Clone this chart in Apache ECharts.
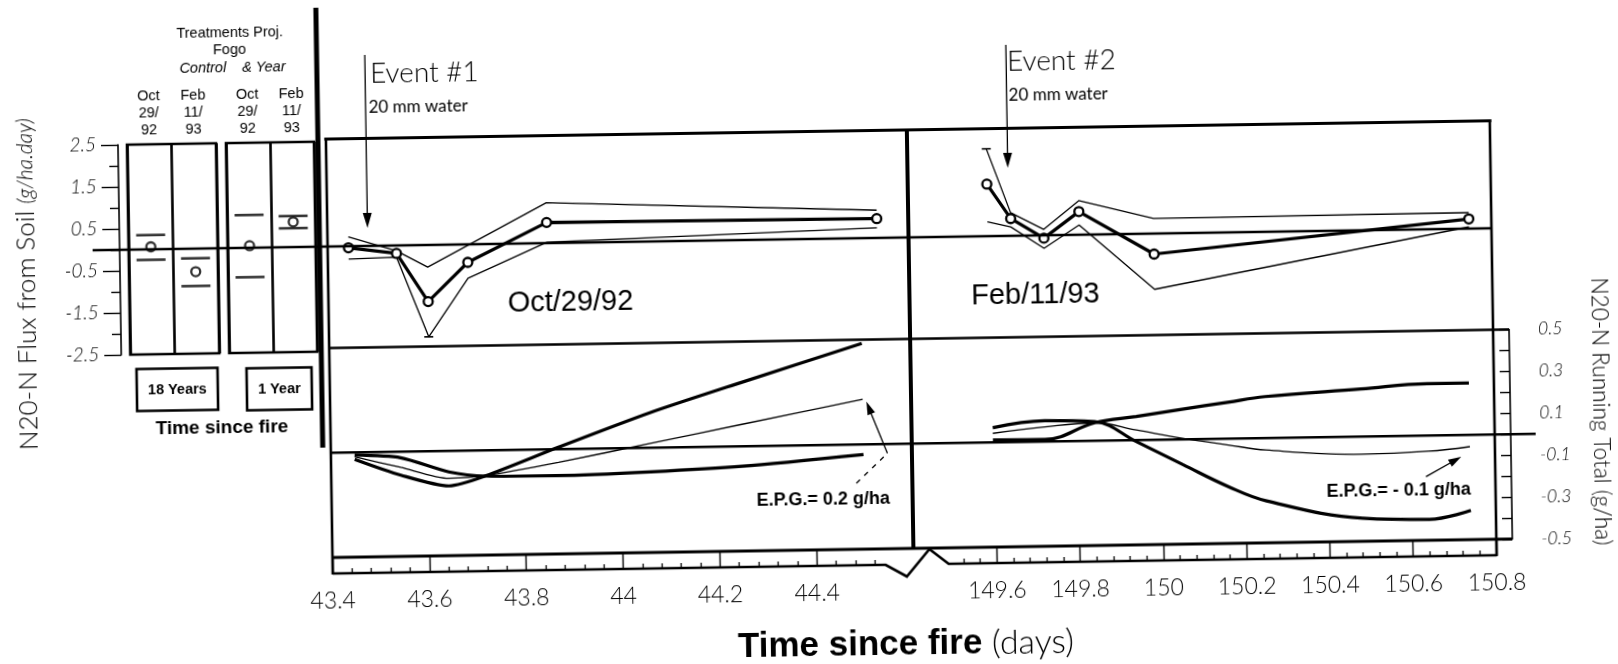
<!DOCTYPE html>
<html><head><meta charset="utf-8">
<script src="https://cdn.jsdelivr.net/npm/echarts@6/dist/echarts.min.js"></script>
<style>
html,body{margin:0;padding:0;background:#fff;overflow:hidden;}
#wrap{width:1618px;height:664px;transform:rotate(-0.9deg);transform-origin:809px 332px;background:#fff;}
#chart{width:1618px;height:664px;}
</style></head><body>
<div id="wrap"><div id="chart"></div></div>
<script>
// ---------------- data ----------------
const boxCategories = ['Oct\n29/\n92', 'Feb\n11/\n93'];
const boxGroups = ['18 Years', '1 Year'];
// left panel: treatment means and bounds (g/ha.day)
const mean18 = [0.06, -0.55];
const high18 = [0.34, -0.23];
const low18  = [-0.25, -0.89];
const mean1  = [0.05, 0.60];
const high1  = [0.78, 0.74];
const low1   = [-0.70, 0.45];

// main flux panels (time since fire, days)
const octDays  = [43.443, 43.542, 43.606, 43.689, 43.853, 44.535];
const octMean  = [-0.04, -0.19, -1.35, -0.43, 0.49, 0.46];
const octUpper = [0.22, -0.13, -0.53, -0.03, 0.96, 0.66];
const octLower = [-0.31, -0.28, -2.19, -0.81, 0.02, 0.24];

const febDays  = [149.59, 149.646, 149.725, 149.81, 149.989, 150.746];
const febMean  = [1.24, 0.41, -0.07, 0.55, -0.49, 0.23];
const febUpper = [2.08, 0.55, 0.14, 0.81, 0.36, 0.38];
const febLower = [0.34, 0.21, -0.31, 0.23, -1.33, 0.04];

// running totals (g/ha)
const octRunDays = [43.449, 43.544, 43.643, 43.72, 43.87, 44.06, 44.25, 44.5];
const octRunA = [-0.033, -0.112, -0.167, -0.121, 0.009, 0.167, 0.305, 0.482];
const octRunB = [-0.021, -0.075, -0.131, -0.12, -0.063, 0.021, 0.105, 0.215];
const octRunC = [-0.013, -0.029, -0.1, -0.123, -0.126, -0.115, -0.095, -0.048];

const febRunDays = [149.595, 149.72, 149.84, 149.94, 150.05, 150.16, 150.25, 150.48, 150.64, 150.74];
const febRunA = [0.011, 0.010, 0.086, 0.113, 0.144, 0.174, 0.198, 0.227, 0.248, 0.248];
const febRunB = [0.043, 0.07, 0.086, 0.048, 0.005, -0.03, -0.057, -0.084, -0.075, -0.056];
const febRunC = [0.07, 0.10, 0.091, -0.008, -0.12, -0.23, -0.30, -0.39, -0.40, -0.36];

const eventDays = [43.483, 149.641];
const octTickLabels = [43.4, 43.6, 43.8, 44, 44.2, 44.4];
const febTickLabels = [149.6, 149.8, 150, 150.2, 150.4, 150.6, 150.8];
const epgLabels = ['E.P.G.= 0.2 g/ha', 'E.P.G.= - 0.1 g/ha'];

// ---------------- helpers ----------------
function minorList(a, b) { const out = []; for (let k = a; k <= b; k++) if (k % 5 !== 0) out.push(+(k * 0.04).toFixed(2)); return out; }
const octMinor = minorList(1086, 1113);
const febMinor = minorList(3738, 3769);

const THIN = 'Lato, "Open Sans", sans-serif';
const HELV = '"Liberation Sans", Arial, sans-serif';
const pairs = (xs, ys) => xs.map((x, i) => [x, ys[i]]);
const capped = (xs, ys, caps) => xs.map((x, i) => caps.indexOf(i) >= 0 ? {value: [x, ys[i]], symbol: 'rect', symbolSize: [9, 1.6]} : [x, ys[i]]);

const chart = echarts.init(document.getElementById('chart'));

const boxGrid = (left, width) => ({left, width, top: 134, height: 210, show: true, borderColor: '#000', borderWidth: 2.6, backgroundColor: 'transparent', containLabel: false, outerBoundsMode: 'none'});
const plain = (left, width, top, height) => ({left, width, top, height, containLabel: false, outerBoundsMode: 'none'});
const catAxis = (gi) => ({gridIndex: gi, type: 'category', data: boxCategories, position: 'top',
  axisLine: {show: false, onZero: false}, axisTick: {show: false},
  splitLine: {show: true, lineStyle: {color: '#000', width: 2.6}},
  axisLabel: {margin: 6, fontFamily: HELV, fontSize: 14.5, lineHeight: 17, color: '#000'}});
const majorX = (gi, min, max, ticks) => ({gridIndex: gi, type: 'value', min, max, interval: 0.2, position: 'bottom',
  axisLine: {show: false, onZero: false}, splitLine: {show: false},
  axisTick: {show: true, length: 16, customValues: ticks, lineStyle: {color: '#000', width: 1.4}},
  axisLabel: {customValues: ticks, margin: 32, formatter: v => String(v), fontFamily: THIN, fontWeight: 300, fontSize: 23, color: '#000'}});
const minorX = (gi, min, max, ticks) => ({gridIndex: gi, type: 'value', min, max, interval: 0.2, position: 'bottom', offset: 16,
  axisLine: {show: false, onZero: false}, splitLine: {show: false}, axisLabel: {show: false},
  axisTick: {show: true, inside: true, length: 5, customValues: ticks, lineStyle: {color: '#000', width: 1.3}}});
const hidden = (gi, min, max) => ({gridIndex: gi, type: 'value', min, max, show: false, axisLine: {onZero: false}});

const thin = {color: '#000', width: 1.3};
const thick = {color: '#000', width: 3.2};
const circle = {symbol: 'circle', symbolSize: 9, itemStyle: {color: '#fff', borderColor: '#000', borderWidth: 2.3}};
const barMark = {type: 'scatter', symbol: 'rect', symbolSize: [29, 2.6], itemStyle: {color: '#000'}, z: 4};

const option = {
  animation: false,
  backgroundColor: '#fff',
  grid: [boxGrid(130, 89), boxGrid(229, 88),
         plain(329, 581, 131.5, 209), plain(910, 583, 131.5, 209),
         plain(329, 581, 340.5, 209.5), plain(910, 583, 340.5, 209.5)],
  xAxis: [catAxis(0), catAxis(1),
          hidden(2, 43.4, 44.6), hidden(3, 149.4, 150.8),
          majorX(4, 43.4, 44.6, octTickLabels), majorX(5, 149.4, 150.8, febTickLabels),
          minorX(4, 43.4, 44.6, octMinor), minorX(5, 149.4, 150.8, febMinor)],
  yAxis: [
    {gridIndex: 0, type: 'value', min: -2.5, max: 2.5, interval: 1, position: 'left', offset: 9,
     axisLine: {show: true, onZero: false, lineStyle: {color: '#000', width: 1.6}},
     axisTick: {show: true, length: 17, lineStyle: {color: '#000', width: 1.4}},
     minorTick: {show: true, splitNumber: 2, length: 9, lineStyle: {color: '#000', width: 1.4}},
     splitLine: {show: false},
     axisLabel: {margin: 22, formatter: v => v.toFixed(1), fontFamily: THIN, fontWeight: 300, fontStyle: 'italic', fontSize: 19, color: '#000'}},
    hidden(1, -2.5, 2.5), hidden(2, -2.42, 2.56), hidden(3, -2.42, 2.56), hidden(4, -0.5, 0.5),
    {gridIndex: 5, type: 'value', min: -0.5, max: 0.5, interval: 0.2, position: 'right', offset: 16,
     axisLine: {show: true, onZero: false, lineStyle: {color: '#000', width: 1.6}},
     axisTick: {show: true, inside: true, length: 10, lineStyle: {color: '#000', width: 1.4}},
     minorTick: {show: true, splitNumber: 2, length: 10, lineStyle: {color: '#000', width: 1.4}},
     splitLine: {show: false},
     axisLabel: {margin: 29, formatter: v => v.toFixed(1), fontFamily: THIN, fontWeight: 300, fontStyle: 'italic', fontSize: 17.5, color: '#000'}}
  ],
  series: [
    Object.assign({}, barMark, {name: '18y high', xAxisIndex: 0, yAxisIndex: 0, data: high18}),
    Object.assign({}, barMark, {name: '18y low', xAxisIndex: 0, yAxisIndex: 0, data: low18}),
    Object.assign({type: 'scatter', name: '18y mean', xAxisIndex: 0, yAxisIndex: 0, data: mean18, z: 5}, circle),
    Object.assign({}, barMark, {name: '1y high', xAxisIndex: 1, yAxisIndex: 1, data: high1}),
    Object.assign({}, barMark, {name: '1y low', xAxisIndex: 1, yAxisIndex: 1, data: low1}),
    Object.assign({type: 'scatter', name: '1y mean', xAxisIndex: 1, yAxisIndex: 1, data: mean1, z: 5}, circle),

    {type: 'line', name: 'Oct upper', xAxisIndex: 2, yAxisIndex: 2, data: pairs(octDays, octUpper), symbol: 'none', lineStyle: thin, clip: false},
    {type: 'line', name: 'Oct lower', xAxisIndex: 2, yAxisIndex: 2, data: capped(octDays, octLower, [2]), symbol: 'none', showSymbol: true, itemStyle: {color: '#000'}, lineStyle: thin, clip: false},
    Object.assign({type: 'line', name: 'Oct mean', xAxisIndex: 2, yAxisIndex: 2, data: pairs(octDays, octMean), lineStyle: thick, z: 5, clip: false}, circle),
    {type: 'line', name: 'Feb upper', xAxisIndex: 3, yAxisIndex: 3, data: capped(febDays, febUpper, [0]), symbol: 'none', showSymbol: true, itemStyle: {color: '#000'}, lineStyle: thin, clip: false},
    {type: 'line', name: 'Feb lower', xAxisIndex: 3, yAxisIndex: 3, data: pairs(febDays, febLower), symbol: 'none', lineStyle: thin, clip: false},
    Object.assign({type: 'line', name: 'Feb mean', xAxisIndex: 3, yAxisIndex: 3, data: pairs(febDays, febMean), lineStyle: thick, z: 5, clip: false}, circle),

    {type: 'line', name: 'Oct run A', xAxisIndex: 4, yAxisIndex: 4, data: pairs(octRunDays, octRunA), symbol: 'none', smooth: 0.25, lineStyle: thick},
    {type: 'line', name: 'Oct run B', xAxisIndex: 4, yAxisIndex: 4, data: pairs(octRunDays, octRunB), symbol: 'none', smooth: 0.25, lineStyle: thin},
    {type: 'line', name: 'Oct run C', xAxisIndex: 4, yAxisIndex: 4, data: pairs(octRunDays, octRunC), symbol: 'none', smooth: 0.25, lineStyle: thick},
    {type: 'line', name: 'Feb run A', xAxisIndex: 5, yAxisIndex: 5, data: pairs(febRunDays, febRunA), symbol: 'none', smooth: 0.4, lineStyle: thick},
    {type: 'line', name: 'Feb run B', xAxisIndex: 5, yAxisIndex: 5, data: pairs(febRunDays, febRunB), symbol: 'none', smooth: 0.4, lineStyle: thin},
    {type: 'line', name: 'Feb run C', xAxisIndex: 5, yAxisIndex: 5, data: pairs(febRunDays, febRunC), symbol: 'none', smooth: 0.4, lineStyle: thick}
  ]
};
chart.setOption(option);

// ---------------- decorations ----------------
const G = [];
const K = '#000';
function ln(x1, y1, x2, y2, w, dash) { G.push({type: 'line', silent: true, z: 10, shape: {x1, y1, x2, y2}, style: {stroke: K, lineWidth: w, lineDash: dash || null}}); }
function pl(points, w) { G.push({type: 'polyline', silent: true, z: 10, shape: {points}, style: {stroke: K, lineWidth: w, fill: null}}); }
function tx(x, y, text, font, align, extra) {
  G.push(Object.assign({type: 'text', silent: true, z: 11, x, y,
    style: Object.assign({text, fill: K, textAlign: align || 'center', textVerticalAlign: 'middle'}, font)}, extra || {}));
}
function head(tx_, ty, dx, dy, len, half) {
  const n = Math.hypot(dx, dy), ux = dx / n, uy = dy / n, bx = tx_ - ux * len, by = ty - uy * len;
  G.push({type: 'polygon', silent: true, z: 10, shape: {points: [[tx_, ty], [bx - uy * half, by + ux * half], [bx + uy * half, by - ux * half]]}, style: {fill: K}});
}
const helv = (size, weight, style) => ({fontFamily: HELV, fontSize: size, fontWeight: weight || 'normal', fontStyle: style || 'normal'});
const thinF = (size, style, weight) => ({fontFamily: THIN, fontSize: size, fontWeight: weight || 300, fontStyle: style || 'normal'});

const yFlux0 = chart.convertToPixel({yAxisIndex: 2}, 0);
const yRun0 = chart.convertToPixel({yAxisIndex: 4}, 0);
const ev1 = chart.convertToPixel({xAxisIndex: 2}, eventDays[0]);
const ev2 = chart.convertToPixel({xAxisIndex: 3}, eventDays[1]);

// thick separator bar
G.push({type: 'rect', silent: true, z: 10, shape: {x: 318.5, y: -4, width: 5, height: 444}, style: {fill: K}});
// frame
ln(327.5, 131.5, 1494.5, 131.5, 2.8);
ln(329, 340.5, 1509, 340.5, 2.6);
ln(329, 550, 1509, 550, 2.8);
ln(329, 130, 329, 567, 2.6);
ln(1493, 130, 1493, 567, 2.6);
ln(910, 131.5, 910, 550, 4);
// axis strip bottom with break
pl([[329, 566], [882, 566], [903, 578], [926, 551], [945, 566], [1493, 566]], 2.6);
// zero lines
ln(94, yFlux0, 1493, yFlux0, 2.5);
ln(329, yRun0, 1534, yRun0, 2.5);

// events
ln(ev1, 48, ev1, 208, 1.3); head(ev1, 221, 0, 1, 15, 4.5);
ln(ev2, 48, ev2, 158, 1.3); head(ev2, 171, 0, 1, 15, 4.5);
tx(ev1 + 5, 67, 'Event #1', thinF(28), 'left');
tx(ev1 + 3, 101, '20 mm water', thinF(17, 'normal', 'normal'), 'left');
tx(ev2 + 1, 65, 'Event #2', thinF(28), 'left');
tx(ev2 + 2, 99, '20 mm water', thinF(17, 'normal', 'normal'), 'left');

// E.P.G. annotations
ln(854, 484, 885.5, 454.5, 1.3, [5, 6]);
ln(885.5, 454.5, 867.5, 408.5, 1.3); head(865.3, 402.6, -20.2, -51.9, 13, 4);
ln(1423.6, 486.4, 1455, 469.2, 1.3); head(1459.2, 466.9, 35.6, -19.5, 13, 4);
tx(754, 500, epgLabels[0], helv(18, 'bold'), 'left');
tx(1324, 500.5, epgLabels[1], helv(18, 'bold'), 'left');

// panel labels
tx(571, 299, 'Oct/29/92', helv(29));
tx(1036, 299, 'Feb/11/93', helv(29));

// left panel header and footer
tx(234.5, 24, 'Treatments Proj.', helv(14.5));
tx(234, 41, 'Fogo', helv(14.5));
tx(207, 59, 'Control', helv(14.5, 'normal', 'italic'));
tx(268, 59, '& Year', helv(14.5, 'normal', 'italic'));
G.push({type: 'rect', silent: true, z: 10, shape: {x: 136, y: 358.5, width: 81, height: 42}, style: {stroke: K, lineWidth: 2.6, fill: null}});
G.push({type: 'rect', silent: true, z: 10, shape: {x: 246, y: 359.5, width: 65, height: 42}, style: {stroke: K, lineWidth: 2.6, fill: null}});
tx(176.5, 379.5, boxGroups[0], helv(14.5, 'bold'));
tx(278.5, 380.5, boxGroups[1], helv(14.5, 'bold'));
tx(220.5, 419, 'Time since fire', helv(19, 'bold'));

// axis titles
G.push({type: 'text', silent: true, z: 11, x: 28, y: 272, rotation: Math.PI / 2,
  style: {text: '{a|N20-N Flux from Soil }{b|(g/ha.day)}', textAlign: 'center', textVerticalAlign: 'middle',
    rich: {a: {fontFamily: THIN, fontWeight: 300, fontSize: 26, fill: K, color: K},
           b: {fontFamily: THIN, fontWeight: 300, fontStyle: 'italic', fontSize: 21, fill: K, color: K}}}});
G.push({type: 'text', silent: true, z: 11, x: 1599, y: 424, rotation: -Math.PI / 2,
  style: {text: 'N20-N Running Total (g/ha)', textAlign: 'center', textVerticalAlign: 'middle',
    fontFamily: THIN, fontWeight: 300, fontSize: 22.5, fill: K}});
G.push({type: 'text', silent: true, z: 11, x: 901, y: 646,
  style: {text: '{b|Time since fire }{l|(days)}', textAlign: 'center', textVerticalAlign: 'middle',
    rich: {b: {fontFamily: HELV, fontWeight: 'bold', fontSize: 35, fill: K, color: K},
           l: {fontFamily: THIN, fontWeight: 300, fontSize: 34, fill: K, color: K}}}});

chart.setOption({graphic: G});
</script>
</body></html>
